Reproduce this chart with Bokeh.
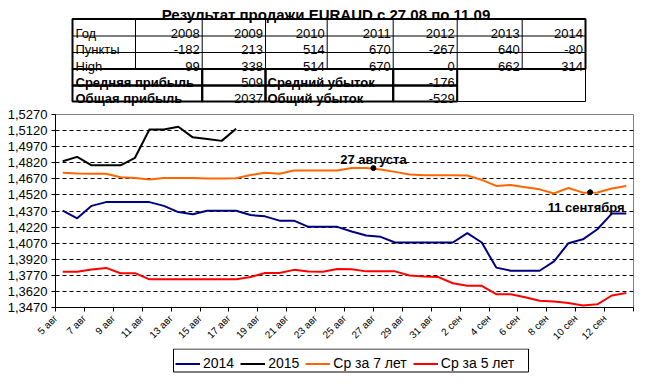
import math
from bokeh.plotting import figure
from bokeh.models import (Range1d, FixedTicker, CustomJSTickFormatter, Legend,
                          LegendItem, ColumnDataSource)
from bokeh.layouts import column
from bokeh.embed import file_html
from bokeh.resources import INLINE
from bokeh.core.properties import value

FONT = "Liberation Sans"

# ---------------- data ----------------
title_text = "Результат продажи EURAUD с 27.08 по 11.09"

years = ["2008", "2009", "2010", "2011", "2012", "2013", "2014"]
points = [-182, 213, 514, 670, -267, 640, -80]
high = [99, 338, 514, 670, 0, 662, 314]
avg_profit = 509
total_profit = 2037
avg_loss = -176
total_loss = -529

dates = ["5 авг", "6 авг", "7 авг", "8 авг", "9 авг", "10 авг", "11 авг", "12 авг",
         "13 авг", "14 авг", "15 авг", "16 авг", "17 авг", "18 авг", "19 авг", "20 авг",
         "21 авг", "22 авг", "23 авг", "24 авг", "25 авг", "26 авг", "27 авг", "28 авг",
         "29 авг", "30 авг", "31 авг", "1 сен", "2 сен", "3 сен", "4 сен", "5 сен",
         "6 сен", "7 сен", "8 сен", "9 сен", "10 сен", "11 сен", "12 сен", "13 сен"]

s2014 = [1.4374, 1.4302, 1.4418, 1.4453, 1.4453, 1.4453, 1.4453, 1.4418, 1.4360, 1.4340,
         1.4373, 1.4373, 1.4373, 1.4332, 1.4320, 1.4280, 1.4280, 1.4222, 1.4222, 1.4222,
         1.4179, 1.4141, 1.4129, 1.4076, 1.4076, 1.4076, 1.4076, 1.4076, 1.4164, 1.4076,
         1.3842, 1.3813, 1.3813, 1.3813, 1.3900, 1.4070, 1.4106, 1.4200, 1.4346, 1.4346]

s2015 = [1.4834, 1.4875, 1.4796, 1.4796, 1.4796, 1.4866, 1.5130, 1.5130, 1.5156, 1.5057,
         1.5042, 1.5024, 1.5138]

avg7 = [1.4726, 1.4720, 1.4718, 1.4718, 1.4685, 1.4678, 1.4663, 1.4677, 1.4677, 1.4677,
        1.4673, 1.4673, 1.4676, 1.4705, 1.4726, 1.4718, 1.4748, 1.4748, 1.4748, 1.4748,
        1.4770, 1.4770, 1.4758, 1.4735, 1.4710, 1.4703, 1.4703, 1.4703, 1.4701, 1.4660,
        1.4604, 1.4612, 1.4592, 1.4572, 1.4534, 1.4584, 1.4541, 1.4542, 1.4580, 1.4603]

avg5 = [1.3804, 1.3804, 1.3825, 1.3839, 1.3790, 1.3790, 1.3733, 1.3733, 1.3733, 1.3733,
        1.3733, 1.3733, 1.3733, 1.3754, 1.3792, 1.3792, 1.3821, 1.3806, 1.3804, 1.3830,
        1.3827, 1.3807, 1.3807, 1.3807, 1.3769, 1.3760, 1.3754, 1.3696, 1.3672, 1.3672,
        1.3594, 1.3594, 1.3565, 1.3533, 1.3527, 1.3512, 1.3488, 1.3500, 1.3582, 1.3605]

y_ticks = [1.3470, 1.3620, 1.3770, 1.3920, 1.4070, 1.4220, 1.4370, 1.4520,
           1.4670, 1.4820, 1.4970, 1.5120, 1.5270]

ann_text = ["27 августа", "11 сентября"]
ann_pos = [21.5, 36.5]
ann_val = [1.4770, 1.4545]

series_names = ["2014", "2015", "Ср за 7 лет", "Ср за 5 лет"]
series_colors = ["#000080", "#000000", "#FF6600", "#FF0000"]

# ---------------- layout constants (pixels) ----------------
W = 634
LEFT, RIGHT = 55, 1
TOP_H, CHART_H, LEG_H = 106, 242, 25
col_edges = [72, 135, 201.7, 265, 326.7, 392.7, 456.7, 521.7, 585]
row_edges = [18.5, 35.5, 52, 68.5, 85, 101]
legend_box = [173, 528]


def bare(fig):
    fig.grid.visible = False
    fig.outline_line_color = None
    return fig


xs = list(range(len(dates)))
src = ColumnDataSource(dict(x=xs, s2014=s2014, avg7=avg7, avg5=avg5))
src15 = ColumnDataSource(dict(x=list(range(len(s2015))), s2015=s2015))


def draw_series(fig):
    return [
        fig.line("x", "s2014", source=src, line_color=series_colors[0], line_width=2),
        fig.line("x", "s2015", source=src15, line_color=series_colors[1], line_width=2),
        fig.line("x", "avg7", source=src, line_color=series_colors[2], line_width=2),
        fig.line("x", "avg5", source=src, line_color=series_colors[3], line_width=2),
    ]


# ---------------- table figure ----------------
t = bare(figure(width=W, height=TOP_H, output_backend="svg", toolbar_location=None,
                title=None,
                x_range=Range1d(LEFT, W - RIGHT), y_range=Range1d(TOP_H, 0),
                x_axis_location=None, y_axis_location=None,
                min_border_left=LEFT, min_border_right=RIGHT,
                min_border_top=0, min_border_bottom=0))

t.text(x=[325.5], y=[14], text=[title_text], text_align="center",
       text_baseline="alphabetic", text_font=value(FONT), text_font_style="bold",
       text_font_size="15px", text_color="black")

c, r = col_edges, row_edges
t.segment(x0=c[1:-1], y0=[r[0]] * 7, x1=c[1:-1], y1=[r[3]] * 7, line_color="black", line_width=1)
t.segment(x0=[c[0]] * 2, y0=r[1:3], x1=[c[-1]] * 2, y1=r[1:3], line_color="black", line_width=1)
t.quad(left=[c[0]], right=[c[-1]], top=[r[0]], bottom=[r[3]], fill_color=None,
       line_color="black", line_width=2)
bl, br, bt, bb = [], [], [], []
for (a, b) in [(0, 2), (2, 3), (3, 5), (5, 6)]:
    for k in (3, 4):
        bl.append(c[a]); br.append(c[b]); bt.append(r[k]); bb.append(r[k + 1])
t.quad(left=[c[6]], right=[c[8]], top=[r[3]], bottom=[r[5]], fill_color=None,
       line_color="black", line_width=1)
t.quad(left=bl, right=br, top=bt, bottom=bb, fill_color=None, line_color="black", line_width=2)

rows_text = [["Год"] + years, ["Пункты"] + [str(v) for v in points], ["High"] + [str(v) for v in high]]
lx, ly, lt = [], [], []
rx, ry, rt = [], [], []
for i, row in enumerate(rows_text):
    base = r[i + 1] - 3
    lx.append(c[0] + 3); ly.append(base); lt.append(row[0])
    for j, txt in enumerate(row[1:]):
        rx.append(c[j + 2] - 2.5); ry.append(base); rt.append(txt)
for k, (v1, v2) in enumerate([(avg_profit, avg_loss), (total_profit, total_loss)]):
    base = r[4 + k] - 3
    rx += [c[3] - 2.5, c[6] - 2.5]; ry += [base, base]; rt += [str(v1), str(v2)]
t.text(x=lx, y=ly, text=lt, text_align="left", text_baseline="alphabetic",
       text_font=value(FONT), text_font_size="13px", text_color="black")
t.text(x=rx, y=ry, text=rt, text_align="right", text_baseline="alphabetic",
       text_font=value(FONT), text_font_size="13px", text_color="black")
bx = [c[0] + 3, c[3] + 2, c[0] + 3, c[3] + 2]
by = [r[4] - 3, r[4] - 3, r[5] - 3, r[5] - 3]
bt_ = ["Средняя прибыль", "Средний убыток", "Общая прибыль", "Общий убыток"]
t.text(x=bx, y=by, text=bt_, text_align="left", text_baseline="alphabetic",
       text_font=value(FONT), text_font_style="bold", text_font_size="13px",
       text_color="black")

# ---------------- chart figure ----------------
p = figure(width=W, height=CHART_H, output_backend="svg", toolbar_location=None,
           title=None,
           x_range=Range1d(-0.5, len(dates) - 0.5), y_range=Range1d(y_ticks[0], y_ticks[-1]),
           min_border_left=LEFT, min_border_right=RIGHT, min_border_top=8, min_border_bottom=38)
p.outline_line_color = "#808080"
p.outline_line_width = 1
p.xgrid.visible = False
p.ygrid.ticker = FixedTicker(ticks=y_ticks[1:-1])
p.ygrid.grid_line_color = "black"
p.ygrid.grid_line_dash = "4 3"
p.ygrid.grid_line_width = 1

p.yaxis.ticker = FixedTicker(ticks=y_ticks)
p.yaxis.formatter = CustomJSTickFormatter(code="return tick.toFixed(4).replace('.', ',');")
p.yaxis.major_label_text_font = FONT
p.yaxis.major_label_text_font_size = "13px"
p.yaxis.major_label_text_color = "black"
p.yaxis.major_label_standoff = 4
p.yaxis.major_tick_out = 4
p.yaxis.major_tick_in = 0
p.yaxis.minor_tick_line_color = None
p.yaxis.axis_line_color = "black"
p.yaxis.major_tick_line_color = "black"

p.xaxis.ticker = FixedTicker(ticks=[i - 0.5 for i in range(0, len(dates) + 1, 2)])
p.xaxis.formatter = CustomJSTickFormatter(
    args=dict(labels=dates),
    code="const i = Math.round(tick + 0.5); return (i < labels.length) ? labels[i] : '';")
p.xaxis.major_label_orientation = math.pi / 4
p.xaxis.major_label_text_font = FONT
p.xaxis.major_label_text_font_size = "10px"
p.xaxis.major_label_text_color = "black"
p.xaxis.major_label_standoff = 5
p.xaxis.major_tick_out = 4
p.xaxis.major_tick_in = 0
p.xaxis.minor_tick_line_color = None
p.xaxis.axis_line_color = "black"
p.xaxis.major_tick_line_color = "black"

draw_series(p)

p.scatter(ann_pos, ann_val, size=5, color="black")
p.text(x=[ann_pos[0]], y=[ann_val[0]], text=[ann_text[0]], text_align="center",
       text_baseline="alphabetic", y_offset=-9, text_font=value(FONT),
       text_font_style="bold", text_font_size="13px", text_color="black")
p.text(x=[ann_pos[1]], y=[ann_val[1]], text=[ann_text[1]], text_align="center",
       text_baseline="alphabetic", x_offset=-4, y_offset=15, text_font=value(FONT),
       text_font_style="bold", text_font_size="13px", text_color="black")

# ---------------- legend figure (series drawn out of its view) ----------------
lg = bare(figure(width=W, height=LEG_H, output_backend="svg", toolbar_location=None,
                 title=None,
                 x_range=Range1d(LEFT, W - RIGHT), y_range=Range1d(LEG_H, 0),
                 x_axis_location=None, y_axis_location=None,
                 min_border_left=LEFT, min_border_right=RIGHT,
                 min_border_top=0, min_border_bottom=0))
lg.quad(left=[legend_box[0]], right=[legend_box[1]], top=[0.5], bottom=[LEG_H - 1.5],
        fill_color="white", line_color="black", line_width=1)
leg_renderers = draw_series(lg)
legend = Legend(items=[LegendItem(label=n, renderers=[rr]) for n, rr in
                       zip(series_names, leg_renderers)],
                orientation="horizontal", location=(legend_box[0] - LEFT + 2, 2))
legend.border_line_color = None
legend.background_fill_alpha = 0
legend.padding = 3
legend.spacing = 6
legend.margin = 0
legend.label_standoff = 3
legend.glyph_width = 25
legend.glyph_height = 15
legend.label_height = 15
legend.label_text_font = FONT
legend.label_text_font_size = "14px"
legend.label_text_color = "black"
lg.add_layout(legend)

layout = column(t, p, lg, spacing=0)
open("out.html", "w").write(file_html(layout, INLINE))
